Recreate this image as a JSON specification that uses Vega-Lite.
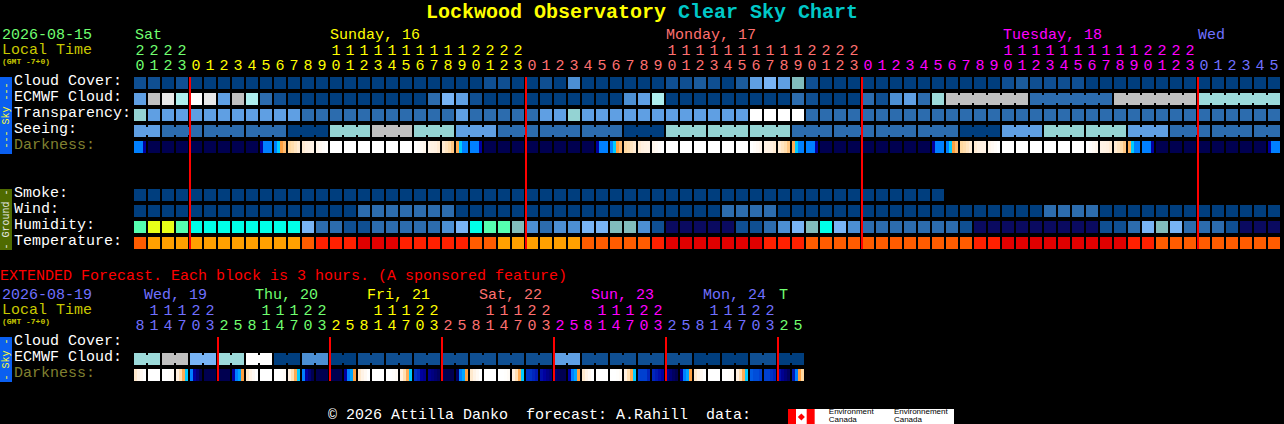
{
"$schema":"https://vega.github.io/schema/vega-lite/v6.json",
"width":1284,"height":424,"padding":0,
"autosize":{"type":"fit","contains":"padding"},
"background":"black",
"config":{"view":{"stroke":null}},
"datasets":{
"panels":[
{"from":-10,"to":-9.143,"top":-0.375,"bottom":4.4375,"part":"sky"},
{"from":-10,"to":-9.143,"top":6.625,"bottom":10.4375,"part":"ground"},
{"from":-10,"to":-9.143,"top":15.875,"bottom":18.6875,"part":"sky"},
{"from":46.2857,"to":58.143,"top":20.375,"bottom":21.3125,"part":"white"},
{"from":46.2857,"to":46.857,"top":20.375,"bottom":21.3125,"part":"red"},
{"from":47.62,"to":48.19,"top":20.375,"bottom":21.3125,"part":"red"}],
"cells":[
{"row":0,"col":0,"v":1},{"row":0,"col":1,"v":1},{"row":0,"col":2,"v":0},{"row":0,"col":3,"v":1},{"row":0,"col":4,"v":0},{"row":0,"col":5,"v":0},{"row":0,"col":6,"v":0},{"row":0,"col":7,"v":0},{"row":0,"col":8,"v":0},{"row":0,"col":9,"v":0},{"row":0,"col":10,"v":0},{"row":0,"col":11,"v":0},{"row":0,"col":12,"v":0},{"row":0,"col":13,"v":0},{"row":0,"col":14,"v":0},{"row":0,"col":15,"v":0},{"row":0,"col":16,"v":0},{"row":0,"col":17,"v":0},{"row":0,"col":18,"v":0},{"row":0,"col":19,"v":0},{"row":0,"col":20,"v":0},{"row":0,"col":21,"v":0},{"row":0,"col":22,"v":0},{"row":0,"col":23,"v":0},{"row":0,"col":24,"v":0},{"row":0,"col":25,"v":1},{"row":0,"col":26,"v":1},{"row":0,"col":27,"v":0},{"row":0,"col":28,"v":0},{"row":0,"col":29,"v":1},{"row":0,"col":30,"v":0},{"row":0,"col":31,"v":4},{"row":0,"col":32,"v":0},{"row":0,"col":33,"v":0},{"row":0,"col":34,"v":0},{"row":0,"col":35,"v":0},{"row":0,"col":36,"v":0},{"row":0,"col":37,"v":0},{"row":0,"col":38,"v":1},{"row":0,"col":39,"v":1},{"row":0,"col":40,"v":2},{"row":0,"col":41,"v":1},{"row":0,"col":42,"v":0},{"row":0,"col":43,"v":2},{"row":0,"col":44,"v":5},{"row":0,"col":45,"v":6},{"row":0,"col":46,"v":5},{"row":0,"col":47,"v":7},{"row":0,"col":48,"v":1},{"row":0,"col":49,"v":0},{"row":0,"col":50,"v":0},{"row":0,"col":51,"v":0},{"row":0,"col":52,"v":0},{"row":0,"col":53,"v":0},{"row":0,"col":54,"v":0},{"row":0,"col":55,"v":0},{"row":0,"col":56,"v":0},{"row":0,"col":57,"v":0},{"row":0,"col":58,"v":0},{"row":0,"col":59,"v":0},{"row":0,"col":60,"v":0},{"row":0,"col":61,"v":0},{"row":0,"col":62,"v":1},{"row":0,"col":63,"v":2},{"row":0,"col":64,"v":1},{"row":0,"col":65,"v":1},{"row":0,"col":66,"v":1},{"row":0,"col":67,"v":1},{"row":0,"col":68,"v":0},{"row":0,"col":69,"v":0},{"row":0,"col":70,"v":0},{"row":0,"col":71,"v":0},{"row":0,"col":72,"v":0},{"row":0,"col":73,"v":0},{"row":0,"col":74,"v":0},{"row":0,"col":75,"v":0},{"row":0,"col":76,"v":0},{"row":0,"col":77,"v":0},{"row":0,"col":78,"v":0},{"row":0,"col":79,"v":0},{"row":0,"col":80,"v":0},{"row":0,"col":81,"v":0},
{"row":1,"col":0,"v":5},{"row":1,"col":1,"v":10},{"row":1,"col":2,"v":11},{"row":1,"col":3,"v":9},{"row":1,"col":4,"v":12},{"row":1,"col":5,"v":11},{"row":1,"col":6,"v":5},{"row":1,"col":7,"v":10},{"row":1,"col":8,"v":9},{"row":1,"col":9,"v":3},{"row":1,"col":10,"v":1},{"row":1,"col":11,"v":0},{"row":1,"col":12,"v":0},{"row":1,"col":13,"v":0},{"row":1,"col":14,"v":0},{"row":1,"col":15,"v":0},{"row":1,"col":16,"v":0},{"row":1,"col":17,"v":0},{"row":1,"col":18,"v":0},{"row":1,"col":19,"v":0},{"row":1,"col":20,"v":0},{"row":1,"col":21,"v":3},{"row":1,"col":22,"v":6},{"row":1,"col":23,"v":5},{"row":1,"col":24,"v":1},{"row":1,"col":25,"v":0},{"row":1,"col":26,"v":0},{"row":1,"col":27,"v":0},{"row":1,"col":28,"v":0},{"row":1,"col":29,"v":0},{"row":1,"col":30,"v":0},{"row":1,"col":31,"v":0},{"row":1,"col":32,"v":0},{"row":1,"col":33,"v":0},{"row":1,"col":34,"v":0},{"row":1,"col":35,"v":4},{"row":1,"col":36,"v":5},{"row":1,"col":37,"v":9},{"row":1,"col":38,"v":0},{"row":1,"col":39,"v":0},{"row":1,"col":40,"v":0},{"row":1,"col":41,"v":0},{"row":1,"col":42,"v":0},{"row":1,"col":43,"v":0},{"row":1,"col":44,"v":0},{"row":1,"col":45,"v":0},{"row":1,"col":46,"v":0},{"row":1,"col":47,"v":3},{"row":1,"col":48,"v":1},{"row":1,"col":49,"v":0},{"row":1,"col":50,"v":0},{"row":1,"col":51,"v":0},{"row":1,"col":52,"v":3},{"row":1,"col":53,"v":1},{"row":1,"col":54,"v":4},{"row":1,"col":55,"v":5},{"row":1,"col":56,"v":3},{"row":1,"col":57,"v":21},{"row":1,"col":58,"v":10},{"row":1,"col":59,"v":10},{"row":1,"col":60,"v":10},{"row":1,"col":61,"v":10},{"row":1,"col":62,"v":10},{"row":1,"col":63,"v":10},{"row":1,"col":64,"v":3},{"row":1,"col":65,"v":3},{"row":1,"col":66,"v":3},{"row":1,"col":67,"v":3},{"row":1,"col":68,"v":3},{"row":1,"col":69,"v":3},{"row":1,"col":70,"v":10},{"row":1,"col":71,"v":10},{"row":1,"col":72,"v":10},{"row":1,"col":73,"v":10},{"row":1,"col":74,"v":10},{"row":1,"col":75,"v":10},{"row":1,"col":76,"v":21},{"row":1,"col":77,"v":21},{"row":1,"col":78,"v":21},{"row":1,"col":79,"v":21},{"row":1,"col":80,"v":21},{"row":1,"col":81,"v":21},
{"row":2,"col":0,"v":8},{"row":2,"col":1,"v":5},{"row":2,"col":2,"v":5},{"row":2,"col":3,"v":5},{"row":2,"col":4,"v":5},{"row":2,"col":5,"v":5},{"row":2,"col":6,"v":5},{"row":2,"col":7,"v":5},{"row":2,"col":8,"v":5},{"row":2,"col":9,"v":5},{"row":2,"col":10,"v":5},{"row":2,"col":11,"v":5},{"row":2,"col":12,"v":3},{"row":2,"col":13,"v":3},{"row":2,"col":14,"v":3},{"row":2,"col":15,"v":3},{"row":2,"col":16,"v":3},{"row":2,"col":17,"v":3},{"row":2,"col":18,"v":3},{"row":2,"col":19,"v":3},{"row":2,"col":20,"v":3},{"row":2,"col":21,"v":3},{"row":2,"col":22,"v":3},{"row":2,"col":23,"v":5},{"row":2,"col":24,"v":3},{"row":2,"col":25,"v":3},{"row":2,"col":26,"v":3},{"row":2,"col":27,"v":3},{"row":2,"col":28,"v":3},{"row":2,"col":29,"v":5},{"row":2,"col":30,"v":5},{"row":2,"col":31,"v":8},{"row":2,"col":32,"v":5},{"row":2,"col":33,"v":5},{"row":2,"col":34,"v":5},{"row":2,"col":35,"v":5},{"row":2,"col":36,"v":5},{"row":2,"col":37,"v":5},{"row":2,"col":38,"v":5},{"row":2,"col":39,"v":5},{"row":2,"col":40,"v":5},{"row":2,"col":41,"v":5},{"row":2,"col":42,"v":5},{"row":2,"col":43,"v":5},{"row":2,"col":44,"v":12},{"row":2,"col":45,"v":12},{"row":2,"col":46,"v":12},{"row":2,"col":47,"v":12},{"row":2,"col":48,"v":3},{"row":2,"col":49,"v":3},{"row":2,"col":50,"v":3},{"row":2,"col":51,"v":3},{"row":2,"col":52,"v":3},{"row":2,"col":53,"v":3},{"row":2,"col":54,"v":3},{"row":2,"col":55,"v":3},{"row":2,"col":56,"v":3},{"row":2,"col":57,"v":3},{"row":2,"col":58,"v":3},{"row":2,"col":59,"v":3},{"row":2,"col":60,"v":3},{"row":2,"col":61,"v":3},{"row":2,"col":62,"v":3},{"row":2,"col":63,"v":3},{"row":2,"col":64,"v":3},{"row":2,"col":65,"v":3},{"row":2,"col":66,"v":3},{"row":2,"col":67,"v":3},{"row":2,"col":68,"v":3},{"row":2,"col":69,"v":3},{"row":2,"col":70,"v":3},{"row":2,"col":71,"v":3},{"row":2,"col":72,"v":3},{"row":2,"col":73,"v":3},{"row":2,"col":74,"v":3},{"row":2,"col":75,"v":3},{"row":2,"col":76,"v":3},{"row":2,"col":77,"v":3},{"row":2,"col":78,"v":3},{"row":2,"col":79,"v":3},{"row":2,"col":80,"v":3},{"row":2,"col":81,"v":3},
{"row":3,"col":0,"v":5},{"row":3,"col":1,"v":5},{"row":3,"col":2,"v":3},{"row":3,"col":3,"v":3},{"row":3,"col":4,"v":3},{"row":3,"col":5,"v":3},{"row":3,"col":6,"v":3},{"row":3,"col":7,"v":3},{"row":3,"col":8,"v":3},{"row":3,"col":9,"v":3},{"row":3,"col":10,"v":3},{"row":3,"col":11,"v":0},{"row":3,"col":12,"v":0},{"row":3,"col":13,"v":0},{"row":3,"col":14,"v":8},{"row":3,"col":15,"v":8},{"row":3,"col":16,"v":8},{"row":3,"col":17,"v":10},{"row":3,"col":18,"v":10},{"row":3,"col":19,"v":10},{"row":3,"col":20,"v":8},{"row":3,"col":21,"v":8},{"row":3,"col":22,"v":8},{"row":3,"col":23,"v":5},{"row":3,"col":24,"v":5},{"row":3,"col":25,"v":5},{"row":3,"col":26,"v":3},{"row":3,"col":27,"v":3},{"row":3,"col":28,"v":3},{"row":3,"col":29,"v":3},{"row":3,"col":30,"v":3},{"row":3,"col":31,"v":3},{"row":3,"col":32,"v":3},{"row":3,"col":33,"v":3},{"row":3,"col":34,"v":3},{"row":3,"col":35,"v":0},{"row":3,"col":36,"v":0},{"row":3,"col":37,"v":0},{"row":3,"col":38,"v":8},{"row":3,"col":39,"v":8},{"row":3,"col":40,"v":8},{"row":3,"col":41,"v":8},{"row":3,"col":42,"v":8},{"row":3,"col":43,"v":8},{"row":3,"col":44,"v":8},{"row":3,"col":45,"v":8},{"row":3,"col":46,"v":8},{"row":3,"col":47,"v":3},{"row":3,"col":48,"v":3},{"row":3,"col":49,"v":3},{"row":3,"col":50,"v":3},{"row":3,"col":51,"v":3},{"row":3,"col":52,"v":3},{"row":3,"col":53,"v":3},{"row":3,"col":54,"v":3},{"row":3,"col":55,"v":3},{"row":3,"col":56,"v":3},{"row":3,"col":57,"v":3},{"row":3,"col":58,"v":3},{"row":3,"col":59,"v":0},{"row":3,"col":60,"v":0},{"row":3,"col":61,"v":0},{"row":3,"col":62,"v":5},{"row":3,"col":63,"v":5},{"row":3,"col":64,"v":5},{"row":3,"col":65,"v":8},{"row":3,"col":66,"v":8},{"row":3,"col":67,"v":8},{"row":3,"col":68,"v":8},{"row":3,"col":69,"v":8},{"row":3,"col":70,"v":8},{"row":3,"col":71,"v":5},{"row":3,"col":72,"v":5},{"row":3,"col":73,"v":5},{"row":3,"col":74,"v":3},{"row":3,"col":75,"v":3},{"row":3,"col":76,"v":3},{"row":3,"col":77,"v":3},{"row":3,"col":78,"v":3},{"row":3,"col":79,"v":3},{"row":3,"col":80,"v":3},{"row":3,"col":81,"v":3},
{"row":4,"col":1,"v":22},{"row":4,"col":2,"v":22},{"row":4,"col":3,"v":22},{"row":4,"col":4,"v":22},{"row":4,"col":5,"v":22},{"row":4,"col":6,"v":22},{"row":4,"col":7,"v":22},{"row":4,"col":8,"v":22},{"row":4,"col":14,"v":12},{"row":4,"col":15,"v":12},{"row":4,"col":16,"v":12},{"row":4,"col":17,"v":12},{"row":4,"col":18,"v":12},{"row":4,"col":19,"v":12},{"row":4,"col":25,"v":22},{"row":4,"col":26,"v":22},{"row":4,"col":27,"v":22},{"row":4,"col":28,"v":22},{"row":4,"col":29,"v":22},{"row":4,"col":30,"v":22},{"row":4,"col":31,"v":22},{"row":4,"col":32,"v":22},{"row":4,"col":38,"v":12},{"row":4,"col":39,"v":12},{"row":4,"col":40,"v":12},{"row":4,"col":41,"v":12},{"row":4,"col":42,"v":12},{"row":4,"col":43,"v":12},{"row":4,"col":49,"v":22},{"row":4,"col":50,"v":22},{"row":4,"col":51,"v":22},{"row":4,"col":52,"v":22},{"row":4,"col":53,"v":22},{"row":4,"col":54,"v":22},{"row":4,"col":55,"v":22},{"row":4,"col":56,"v":22},{"row":4,"col":62,"v":12},{"row":4,"col":63,"v":12},{"row":4,"col":64,"v":12},{"row":4,"col":65,"v":12},{"row":4,"col":66,"v":12},{"row":4,"col":67,"v":12},{"row":4,"col":73,"v":22},{"row":4,"col":74,"v":22},{"row":4,"col":75,"v":22},{"row":4,"col":76,"v":22},{"row":4,"col":77,"v":22},{"row":4,"col":78,"v":22},{"row":4,"col":79,"v":22},{"row":4,"col":80,"v":22},
{"row":7,"col":0,"v":0},{"row":7,"col":1,"v":0},{"row":7,"col":2,"v":0},{"row":7,"col":3,"v":0},{"row":7,"col":4,"v":0},{"row":7,"col":5,"v":0},{"row":7,"col":6,"v":0},{"row":7,"col":7,"v":0},{"row":7,"col":8,"v":0},{"row":7,"col":9,"v":0},{"row":7,"col":10,"v":0},{"row":7,"col":11,"v":0},{"row":7,"col":12,"v":0},{"row":7,"col":13,"v":0},{"row":7,"col":14,"v":0},{"row":7,"col":15,"v":0},{"row":7,"col":16,"v":0},{"row":7,"col":17,"v":0},{"row":7,"col":18,"v":0},{"row":7,"col":19,"v":0},{"row":7,"col":20,"v":0},{"row":7,"col":21,"v":0},{"row":7,"col":22,"v":0},{"row":7,"col":23,"v":0},{"row":7,"col":24,"v":0},{"row":7,"col":25,"v":0},{"row":7,"col":26,"v":0},{"row":7,"col":27,"v":0},{"row":7,"col":28,"v":0},{"row":7,"col":29,"v":0},{"row":7,"col":30,"v":0},{"row":7,"col":31,"v":0},{"row":7,"col":32,"v":0},{"row":7,"col":33,"v":0},{"row":7,"col":34,"v":0},{"row":7,"col":35,"v":0},{"row":7,"col":36,"v":0},{"row":7,"col":37,"v":0},{"row":7,"col":38,"v":0},{"row":7,"col":39,"v":0},{"row":7,"col":40,"v":0},{"row":7,"col":41,"v":0},{"row":7,"col":42,"v":0},{"row":7,"col":43,"v":0},{"row":7,"col":44,"v":0},{"row":7,"col":45,"v":0},{"row":7,"col":46,"v":0},{"row":7,"col":47,"v":0},{"row":7,"col":48,"v":0},{"row":7,"col":49,"v":0},{"row":7,"col":50,"v":0},{"row":7,"col":51,"v":0},{"row":7,"col":52,"v":0},{"row":7,"col":53,"v":0},{"row":7,"col":54,"v":0},{"row":7,"col":55,"v":0},{"row":7,"col":56,"v":0},{"row":7,"col":57,"v":0},
{"row":8,"col":0,"v":0},{"row":8,"col":1,"v":0},{"row":8,"col":2,"v":0},{"row":8,"col":3,"v":0},{"row":8,"col":4,"v":0},{"row":8,"col":5,"v":0},{"row":8,"col":6,"v":0},{"row":8,"col":7,"v":0},{"row":8,"col":8,"v":0},{"row":8,"col":9,"v":0},{"row":8,"col":10,"v":0},{"row":8,"col":11,"v":0},{"row":8,"col":12,"v":0},{"row":8,"col":13,"v":0},{"row":8,"col":14,"v":0},{"row":8,"col":15,"v":0},{"row":8,"col":16,"v":3},{"row":8,"col":17,"v":3},{"row":8,"col":18,"v":3},{"row":8,"col":19,"v":3},{"row":8,"col":20,"v":3},{"row":8,"col":21,"v":3},{"row":8,"col":22,"v":3},{"row":8,"col":23,"v":0},{"row":8,"col":24,"v":0},{"row":8,"col":25,"v":0},{"row":8,"col":26,"v":0},{"row":8,"col":27,"v":0},{"row":8,"col":28,"v":0},{"row":8,"col":29,"v":0},{"row":8,"col":30,"v":0},{"row":8,"col":31,"v":0},{"row":8,"col":32,"v":0},{"row":8,"col":33,"v":0},{"row":8,"col":34,"v":0},{"row":8,"col":35,"v":0},{"row":8,"col":36,"v":0},{"row":8,"col":37,"v":0},{"row":8,"col":38,"v":0},{"row":8,"col":39,"v":0},{"row":8,"col":40,"v":0},{"row":8,"col":41,"v":0},{"row":8,"col":42,"v":3},{"row":8,"col":43,"v":3},{"row":8,"col":44,"v":3},{"row":8,"col":45,"v":3},{"row":8,"col":46,"v":0},{"row":8,"col":47,"v":0},{"row":8,"col":48,"v":0},{"row":8,"col":49,"v":0},{"row":8,"col":50,"v":0},{"row":8,"col":51,"v":0},{"row":8,"col":52,"v":0},{"row":8,"col":53,"v":0},{"row":8,"col":54,"v":0},{"row":8,"col":55,"v":0},{"row":8,"col":56,"v":0},{"row":8,"col":57,"v":0},{"row":8,"col":58,"v":0},{"row":8,"col":59,"v":0},{"row":8,"col":60,"v":0},{"row":8,"col":61,"v":0},{"row":8,"col":62,"v":0},{"row":8,"col":63,"v":0},{"row":8,"col":64,"v":0},{"row":8,"col":65,"v":3},{"row":8,"col":66,"v":3},{"row":8,"col":67,"v":3},{"row":8,"col":68,"v":3},{"row":8,"col":69,"v":0},{"row":8,"col":70,"v":0},{"row":8,"col":71,"v":0},{"row":8,"col":72,"v":0},{"row":8,"col":73,"v":0},{"row":8,"col":74,"v":0},{"row":8,"col":75,"v":0},{"row":8,"col":76,"v":0},{"row":8,"col":77,"v":0},{"row":8,"col":78,"v":0},{"row":8,"col":79,"v":0},{"row":8,"col":80,"v":0},{"row":8,"col":81,"v":0},
{"row":9,"col":0,"v":15},{"row":9,"col":1,"v":16},{"row":9,"col":2,"v":16},{"row":9,"col":3,"v":15},{"row":9,"col":4,"v":14},{"row":9,"col":5,"v":14},{"row":9,"col":6,"v":14},{"row":9,"col":7,"v":14},{"row":9,"col":8,"v":14},{"row":9,"col":9,"v":14},{"row":9,"col":10,"v":14},{"row":9,"col":11,"v":14},{"row":9,"col":12,"v":6},{"row":9,"col":13,"v":3},{"row":9,"col":14,"v":3},{"row":9,"col":15,"v":1},{"row":9,"col":16,"v":1},{"row":9,"col":17,"v":3},{"row":9,"col":18,"v":3},{"row":9,"col":19,"v":3},{"row":9,"col":20,"v":3},{"row":9,"col":21,"v":3},{"row":9,"col":22,"v":4},{"row":9,"col":23,"v":6},{"row":9,"col":24,"v":14},{"row":9,"col":25,"v":15},{"row":9,"col":26,"v":15},{"row":9,"col":27,"v":7},{"row":9,"col":28,"v":4},{"row":9,"col":29,"v":3},{"row":9,"col":30,"v":4},{"row":9,"col":31,"v":4},{"row":9,"col":32,"v":6},{"row":9,"col":33,"v":6},{"row":9,"col":34,"v":7},{"row":9,"col":35,"v":7},{"row":9,"col":36,"v":4},{"row":9,"col":37,"v":1},{"row":9,"col":38,"v":13},{"row":9,"col":39,"v":13},{"row":9,"col":40,"v":13},{"row":9,"col":41,"v":13},{"row":9,"col":42,"v":13},{"row":9,"col":43,"v":1},{"row":9,"col":44,"v":1},{"row":9,"col":45,"v":3},{"row":9,"col":46,"v":4},{"row":9,"col":47,"v":6},{"row":9,"col":48,"v":7},{"row":9,"col":49,"v":14},{"row":9,"col":50,"v":6},{"row":9,"col":51,"v":4},{"row":9,"col":52,"v":3},{"row":9,"col":53,"v":3},{"row":9,"col":54,"v":3},{"row":9,"col":55,"v":3},{"row":9,"col":56,"v":3},{"row":9,"col":57,"v":3},{"row":9,"col":58,"v":3},{"row":9,"col":59,"v":1},{"row":9,"col":60,"v":13},{"row":9,"col":61,"v":13},{"row":9,"col":62,"v":13},{"row":9,"col":63,"v":13},{"row":9,"col":64,"v":13},{"row":9,"col":65,"v":13},{"row":9,"col":66,"v":13},{"row":9,"col":67,"v":13},{"row":9,"col":68,"v":13},{"row":9,"col":69,"v":1},{"row":9,"col":70,"v":1},{"row":9,"col":71,"v":3},{"row":9,"col":72,"v":6},{"row":9,"col":73,"v":7},{"row":9,"col":74,"v":6},{"row":9,"col":75,"v":3},{"row":9,"col":76,"v":3},{"row":9,"col":77,"v":3},{"row":9,"col":78,"v":1},{"row":9,"col":79,"v":13},{"row":9,"col":80,"v":13},{"row":9,"col":81,"v":13},
{"row":10,"col":0,"v":19},{"row":10,"col":1,"v":20},{"row":10,"col":2,"v":20},{"row":10,"col":3,"v":20},{"row":10,"col":4,"v":20},{"row":10,"col":5,"v":20},{"row":10,"col":6,"v":20},{"row":10,"col":7,"v":20},{"row":10,"col":8,"v":20},{"row":10,"col":9,"v":20},{"row":10,"col":10,"v":20},{"row":10,"col":11,"v":20},{"row":10,"col":12,"v":19},{"row":10,"col":13,"v":18},{"row":10,"col":14,"v":18},{"row":10,"col":15,"v":18},{"row":10,"col":16,"v":17},{"row":10,"col":17,"v":17},{"row":10,"col":18,"v":17},{"row":10,"col":19,"v":18},{"row":10,"col":20,"v":18},{"row":10,"col":21,"v":18},{"row":10,"col":22,"v":18},{"row":10,"col":23,"v":18},{"row":10,"col":24,"v":19},{"row":10,"col":25,"v":19},{"row":10,"col":26,"v":20},{"row":10,"col":27,"v":20},{"row":10,"col":28,"v":20},{"row":10,"col":29,"v":20},{"row":10,"col":30,"v":20},{"row":10,"col":31,"v":20},{"row":10,"col":32,"v":19},{"row":10,"col":33,"v":19},{"row":10,"col":34,"v":19},{"row":10,"col":35,"v":19},{"row":10,"col":36,"v":19},{"row":10,"col":37,"v":18},{"row":10,"col":38,"v":17},{"row":10,"col":39,"v":17},{"row":10,"col":40,"v":17},{"row":10,"col":41,"v":17},{"row":10,"col":42,"v":17},{"row":10,"col":43,"v":17},{"row":10,"col":44,"v":17},{"row":10,"col":45,"v":18},{"row":10,"col":46,"v":18},{"row":10,"col":47,"v":18},{"row":10,"col":48,"v":19},{"row":10,"col":49,"v":19},{"row":10,"col":50,"v":19},{"row":10,"col":51,"v":19},{"row":10,"col":52,"v":19},{"row":10,"col":53,"v":19},{"row":10,"col":54,"v":19},{"row":10,"col":55,"v":19},{"row":10,"col":56,"v":19},{"row":10,"col":57,"v":19},{"row":10,"col":58,"v":19},{"row":10,"col":59,"v":19},{"row":10,"col":60,"v":18},{"row":10,"col":61,"v":18},{"row":10,"col":62,"v":17},{"row":10,"col":63,"v":17},{"row":10,"col":64,"v":17},{"row":10,"col":65,"v":17},{"row":10,"col":66,"v":17},{"row":10,"col":67,"v":17},{"row":10,"col":68,"v":17},{"row":10,"col":69,"v":17},{"row":10,"col":70,"v":17},{"row":10,"col":71,"v":18},{"row":10,"col":72,"v":18},{"row":10,"col":73,"v":19},{"row":10,"col":74,"v":19},{"row":10,"col":75,"v":19},{"row":10,"col":76,"v":19},{"row":10,"col":77,"v":19},{"row":10,"col":78,"v":19},{"row":10,"col":79,"v":19},{"row":10,"col":80,"v":19},{"row":10,"col":81,"v":19},
{"row":17.25,"col":0,"v":21},{"row":17.25,"col":1,"v":21},{"row":17.25,"col":2,"v":10},{"row":17.25,"col":3,"v":10},{"row":17.25,"col":4,"v":6},{"row":17.25,"col":5,"v":6},{"row":17.25,"col":6,"v":21},{"row":17.25,"col":7,"v":21},{"row":17.25,"col":8,"v":12},{"row":17.25,"col":9,"v":12},{"row":17.25,"col":10,"v":0},{"row":17.25,"col":11,"v":0},{"row":17.25,"col":12,"v":4},{"row":17.25,"col":13,"v":4},{"row":17.25,"col":14,"v":0},{"row":17.25,"col":15,"v":0},{"row":17.25,"col":16,"v":1},{"row":17.25,"col":17,"v":1},{"row":17.25,"col":18,"v":1},{"row":17.25,"col":19,"v":1},{"row":17.25,"col":20,"v":1},{"row":17.25,"col":21,"v":1},{"row":17.25,"col":22,"v":1},{"row":17.25,"col":23,"v":1},{"row":17.25,"col":24,"v":1},{"row":17.25,"col":25,"v":1},{"row":17.25,"col":26,"v":1},{"row":17.25,"col":27,"v":1},{"row":17.25,"col":28,"v":1},{"row":17.25,"col":29,"v":1},{"row":17.25,"col":30,"v":5},{"row":17.25,"col":31,"v":5},{"row":17.25,"col":32,"v":1},{"row":17.25,"col":33,"v":1},{"row":17.25,"col":34,"v":1},{"row":17.25,"col":35,"v":1},{"row":17.25,"col":36,"v":1},{"row":17.25,"col":37,"v":1},{"row":17.25,"col":38,"v":1},{"row":17.25,"col":39,"v":1},{"row":17.25,"col":40,"v":0},{"row":17.25,"col":41,"v":0},{"row":17.25,"col":42,"v":0},{"row":17.25,"col":43,"v":0},{"row":17.25,"col":44,"v":1},{"row":17.25,"col":45,"v":1},{"row":17.25,"col":46,"v":0},{"row":17.25,"col":47,"v":0},
{"row":18.25,"col":1,"v":12},{"row":18.25,"col":5,"v":22},{"row":18.25,"col":6,"v":22},{"row":18.25,"col":9,"v":12},{"row":18.25,"col":13,"v":22},{"row":18.25,"col":14,"v":22},{"row":18.25,"col":17,"v":12},{"row":18.25,"col":22,"v":22},{"row":18.25,"col":25,"v":12},{"row":18.25,"col":33,"v":12},{"row":18.25,"col":41,"v":12}],
"bridges":[
{"row":1,"col":58.5,"v":10},{"row":1,"col":59.5,"v":10},{"row":1,"col":60.5,"v":10},{"row":1,"col":61.5,"v":10},{"row":1,"col":62.5,"v":10},{"row":1,"col":64.5,"v":3},{"row":1,"col":65.5,"v":3},{"row":1,"col":66.5,"v":3},{"row":1,"col":67.5,"v":3},{"row":1,"col":68.5,"v":3},{"row":1,"col":70.5,"v":10},{"row":1,"col":71.5,"v":10},{"row":1,"col":72.5,"v":10},{"row":1,"col":73.5,"v":10},{"row":1,"col":74.5,"v":10},{"row":1,"col":76.5,"v":21},{"row":1,"col":77.5,"v":21},{"row":1,"col":78.5,"v":21},{"row":1,"col":79.5,"v":21},{"row":1,"col":80.5,"v":21},
{"row":3,"col":0.5,"v":5},{"row":3,"col":2.5,"v":3},{"row":3,"col":3.5,"v":3},{"row":3,"col":5.5,"v":3},{"row":3,"col":6.5,"v":3},{"row":3,"col":8.5,"v":3},{"row":3,"col":9.5,"v":3},{"row":3,"col":11.5,"v":0},{"row":3,"col":12.5,"v":0},{"row":3,"col":14.5,"v":8},{"row":3,"col":15.5,"v":8},{"row":3,"col":17.5,"v":10},{"row":3,"col":18.5,"v":10},{"row":3,"col":20.5,"v":8},{"row":3,"col":21.5,"v":8},{"row":3,"col":23.5,"v":5},{"row":3,"col":24.5,"v":5},{"row":3,"col":26.5,"v":3},{"row":3,"col":27.5,"v":3},{"row":3,"col":29.5,"v":3},{"row":3,"col":30.5,"v":3},{"row":3,"col":32.5,"v":3},{"row":3,"col":33.5,"v":3},{"row":3,"col":35.5,"v":0},{"row":3,"col":36.5,"v":0},{"row":3,"col":38.5,"v":8},{"row":3,"col":39.5,"v":8},{"row":3,"col":41.5,"v":8},{"row":3,"col":42.5,"v":8},{"row":3,"col":44.5,"v":8},{"row":3,"col":45.5,"v":8},{"row":3,"col":47.5,"v":3},{"row":3,"col":48.5,"v":3},{"row":3,"col":50.5,"v":3},{"row":3,"col":51.5,"v":3},{"row":3,"col":53.5,"v":3},{"row":3,"col":54.5,"v":3},{"row":3,"col":56.5,"v":3},{"row":3,"col":57.5,"v":3},{"row":3,"col":59.5,"v":0},{"row":3,"col":60.5,"v":0},{"row":3,"col":62.5,"v":5},{"row":3,"col":63.5,"v":5},{"row":3,"col":65.5,"v":8},{"row":3,"col":66.5,"v":8},{"row":3,"col":68.5,"v":8},{"row":3,"col":69.5,"v":8},{"row":3,"col":71.5,"v":5},{"row":3,"col":72.5,"v":5},{"row":3,"col":74.5,"v":3},{"row":3,"col":75.5,"v":3},{"row":3,"col":77.5,"v":3},{"row":3,"col":78.5,"v":3},{"row":3,"col":80.5,"v":3},
{"row":17.25,"col":0.5,"v":21},{"row":17.25,"col":2.5,"v":10},{"row":17.25,"col":4.5,"v":6},{"row":17.25,"col":6.5,"v":21},{"row":17.25,"col":8.5,"v":12},{"row":17.25,"col":10.5,"v":0},{"row":17.25,"col":12.5,"v":4},{"row":17.25,"col":14.5,"v":0},{"row":17.25,"col":16.5,"v":1},{"row":17.25,"col":18.5,"v":1},{"row":17.25,"col":20.5,"v":1},{"row":17.25,"col":22.5,"v":1},{"row":17.25,"col":24.5,"v":1},{"row":17.25,"col":26.5,"v":1},{"row":17.25,"col":28.5,"v":1},{"row":17.25,"col":30.5,"v":5},{"row":17.25,"col":32.5,"v":1},{"row":17.25,"col":34.5,"v":1},{"row":17.25,"col":36.5,"v":1},{"row":17.25,"col":38.5,"v":1},{"row":17.25,"col":40.5,"v":0},{"row":17.25,"col":42.5,"v":0},{"row":17.25,"col":44.5,"v":1},{"row":17.25,"col":46.5,"v":0}],
"slices":[
{"row":4,"col":-0.321,"dark":5},{"row":4,"col":-0.107,"dark":5},{"row":4,"col":0.107,"dark":5},{"row":4,"col":0.321,"dark":6},
{"row":4,"col":8.679,"dark":6},{"row":4,"col":8.893,"dark":5},{"row":4,"col":9.107,"dark":5},{"row":4,"col":9.321,"dark":5},
{"row":4,"col":9.679,"dark":5},{"row":4,"col":9.893,"dark":4},{"row":4,"col":10.107,"dark":3},{"row":4,"col":10.321,"dark":2.5},
{"row":4,"col":10.679,"dark":2},{"row":4,"col":10.893,"dark":1.8},{"row":4,"col":11.107,"dark":1.5},{"row":4,"col":11.321,"dark":1.2},
{"row":4,"col":11.679,"dark":1.2},{"row":4,"col":11.893,"dark":1},{"row":4,"col":12.107,"dark":0.9},{"row":4,"col":12.321,"dark":0.8},
{"row":4,"col":12.679,"dark":0.6},{"row":4,"col":12.893,"dark":0.4},{"row":4,"col":13.107,"dark":0.2},{"row":4,"col":13.321,"dark":0},
{"row":4,"col":19.679,"dark":0},{"row":4,"col":19.893,"dark":0.2},{"row":4,"col":20.107,"dark":0.4},{"row":4,"col":20.321,"dark":0.6},
{"row":4,"col":20.679,"dark":0.8},{"row":4,"col":20.893,"dark":0.9},{"row":4,"col":21.107,"dark":1},{"row":4,"col":21.321,"dark":1.2},
{"row":4,"col":21.679,"dark":1.2},{"row":4,"col":21.893,"dark":1.5},{"row":4,"col":22.107,"dark":1.8},{"row":4,"col":22.321,"dark":2.3},
{"row":4,"col":22.679,"dark":2.8},{"row":4,"col":22.893,"dark":4},{"row":4,"col":23.107,"dark":5},{"row":4,"col":23.321,"dark":5},
{"row":4,"col":23.679,"dark":5},{"row":4,"col":23.893,"dark":5},{"row":4,"col":24.107,"dark":5},{"row":4,"col":24.321,"dark":6},
{"row":4,"col":32.679,"dark":6},{"row":4,"col":32.893,"dark":5},{"row":4,"col":33.107,"dark":5},{"row":4,"col":33.321,"dark":5},
{"row":4,"col":33.679,"dark":5},{"row":4,"col":33.893,"dark":4},{"row":4,"col":34.107,"dark":3},{"row":4,"col":34.321,"dark":2.5},
{"row":4,"col":34.679,"dark":2},{"row":4,"col":34.893,"dark":1.8},{"row":4,"col":35.107,"dark":1.5},{"row":4,"col":35.321,"dark":1.2},
{"row":4,"col":35.679,"dark":1.2},{"row":4,"col":35.893,"dark":1},{"row":4,"col":36.107,"dark":0.9},{"row":4,"col":36.321,"dark":0.8},
{"row":4,"col":36.679,"dark":0.6},{"row":4,"col":36.893,"dark":0.4},{"row":4,"col":37.107,"dark":0.2},{"row":4,"col":37.321,"dark":0},
{"row":4,"col":43.679,"dark":0},{"row":4,"col":43.893,"dark":0.2},{"row":4,"col":44.107,"dark":0.4},{"row":4,"col":44.321,"dark":0.6},
{"row":4,"col":44.679,"dark":0.8},{"row":4,"col":44.893,"dark":0.9},{"row":4,"col":45.107,"dark":1},{"row":4,"col":45.321,"dark":1.2},
{"row":4,"col":45.679,"dark":1.2},{"row":4,"col":45.893,"dark":1.5},{"row":4,"col":46.107,"dark":1.8},{"row":4,"col":46.321,"dark":2.3},
{"row":4,"col":46.679,"dark":2.8},{"row":4,"col":46.893,"dark":4},{"row":4,"col":47.107,"dark":5},{"row":4,"col":47.321,"dark":5},
{"row":4,"col":47.679,"dark":5},{"row":4,"col":47.893,"dark":5},{"row":4,"col":48.107,"dark":5},{"row":4,"col":48.321,"dark":6},
{"row":4,"col":56.679,"dark":6},{"row":4,"col":56.893,"dark":5},{"row":4,"col":57.107,"dark":5},{"row":4,"col":57.321,"dark":5},
{"row":4,"col":57.679,"dark":5},{"row":4,"col":57.893,"dark":4},{"row":4,"col":58.107,"dark":3},{"row":4,"col":58.321,"dark":2.5},
{"row":4,"col":58.679,"dark":2},{"row":4,"col":58.893,"dark":1.8},{"row":4,"col":59.107,"dark":1.5},{"row":4,"col":59.321,"dark":1.2},
{"row":4,"col":59.679,"dark":1.2},{"row":4,"col":59.893,"dark":1},{"row":4,"col":60.107,"dark":0.9},{"row":4,"col":60.321,"dark":0.8},
{"row":4,"col":60.679,"dark":0.6},{"row":4,"col":60.893,"dark":0.4},{"row":4,"col":61.107,"dark":0.2},{"row":4,"col":61.321,"dark":0},
{"row":4,"col":67.679,"dark":0},{"row":4,"col":67.893,"dark":0.2},{"row":4,"col":68.107,"dark":0.4},{"row":4,"col":68.321,"dark":0.6},
{"row":4,"col":68.679,"dark":0.8},{"row":4,"col":68.893,"dark":0.9},{"row":4,"col":69.107,"dark":1},{"row":4,"col":69.321,"dark":1.2},
{"row":4,"col":69.679,"dark":1.2},{"row":4,"col":69.893,"dark":1.5},{"row":4,"col":70.107,"dark":1.8},{"row":4,"col":70.321,"dark":2.3},
{"row":4,"col":70.679,"dark":2.8},{"row":4,"col":70.893,"dark":4},{"row":4,"col":71.107,"dark":5},{"row":4,"col":71.321,"dark":5},
{"row":4,"col":71.679,"dark":5},{"row":4,"col":71.893,"dark":5},{"row":4,"col":72.107,"dark":5},{"row":4,"col":72.321,"dark":6},
{"row":4,"col":80.679,"dark":6},{"row":4,"col":80.893,"dark":5},{"row":4,"col":81.107,"dark":5},{"row":4,"col":81.321,"dark":5},
{"row":18.25,"col":-0.321,"dark":1.3},{"row":18.25,"col":-0.107,"dark":0.8},{"row":18.25,"col":0.107,"dark":0.4},{"row":18.25,"col":0.321,"dark":0},
{"row":18.25,"col":1.679,"dark":0},{"row":18.25,"col":1.893,"dark":0},{"row":18.25,"col":2.107,"dark":0.1},{"row":18.25,"col":2.321,"dark":0.3},
{"row":18.25,"col":2.679,"dark":1},{"row":18.25,"col":2.893,"dark":1.7},{"row":18.25,"col":3.107,"dark":2.8},{"row":18.25,"col":3.321,"dark":4},
{"row":18.25,"col":3.679,"dark":5},{"row":18.25,"col":3.893,"dark":6},{"row":18.25,"col":4.107,"dark":6.5},{"row":18.25,"col":4.321,"dark":7},
{"row":18.25,"col":6.679,"dark":6},{"row":18.25,"col":6.893,"dark":5},{"row":18.25,"col":7.107,"dark":4.5},{"row":18.25,"col":7.321,"dark":3},
{"row":18.25,"col":7.679,"dark":1.3},{"row":18.25,"col":7.893,"dark":0.8},{"row":18.25,"col":8.107,"dark":0.4},{"row":18.25,"col":8.321,"dark":0},
{"row":18.25,"col":9.679,"dark":0},{"row":18.25,"col":9.893,"dark":0},{"row":18.25,"col":10.107,"dark":0.1},{"row":18.25,"col":10.321,"dark":0.3},
{"row":18.25,"col":10.679,"dark":1},{"row":18.25,"col":10.893,"dark":1.7},{"row":18.25,"col":11.107,"dark":2.8},{"row":18.25,"col":11.321,"dark":4},
{"row":18.25,"col":11.679,"dark":5},{"row":18.25,"col":11.893,"dark":6},{"row":18.25,"col":12.107,"dark":6.5},{"row":18.25,"col":12.321,"dark":7},
{"row":18.25,"col":14.679,"dark":6},{"row":18.25,"col":14.893,"dark":5},{"row":18.25,"col":15.107,"dark":4.5},{"row":18.25,"col":15.321,"dark":3},
{"row":18.25,"col":15.679,"dark":1.3},{"row":18.25,"col":15.893,"dark":0.8},{"row":18.25,"col":16.107,"dark":0.4},{"row":18.25,"col":16.321,"dark":0},
{"row":18.25,"col":17.679,"dark":0},{"row":18.25,"col":17.893,"dark":0},{"row":18.25,"col":18.107,"dark":0.1},{"row":18.25,"col":18.321,"dark":0.3},
{"row":18.25,"col":18.679,"dark":1},{"row":18.25,"col":18.893,"dark":1.7},{"row":18.25,"col":19.107,"dark":2.8},{"row":18.25,"col":19.321,"dark":4},
{"row":18.25,"col":19.679,"dark":5.6},{"row":18.25,"col":19.893,"dark":5.7},{"row":18.25,"col":20.107,"dark":6},{"row":18.25,"col":20.321,"dark":6.2},
{"row":18.25,"col":20.679,"dark":6.2},{"row":18.25,"col":20.893,"dark":6.4},{"row":18.25,"col":21.107,"dark":6.6},{"row":18.25,"col":21.321,"dark":6.8},
{"row":18.25,"col":22.679,"dark":6.7},{"row":18.25,"col":22.893,"dark":5},{"row":18.25,"col":23.107,"dark":4.5},{"row":18.25,"col":23.321,"dark":3},
{"row":18.25,"col":23.679,"dark":1.3},{"row":18.25,"col":23.893,"dark":0.8},{"row":18.25,"col":24.107,"dark":0.4},{"row":18.25,"col":24.321,"dark":0},
{"row":18.25,"col":25.679,"dark":0},{"row":18.25,"col":25.893,"dark":0},{"row":18.25,"col":26.107,"dark":0.1},{"row":18.25,"col":26.321,"dark":0.3},
{"row":18.25,"col":26.679,"dark":1},{"row":18.25,"col":26.893,"dark":1.7},{"row":18.25,"col":27.107,"dark":2.8},{"row":18.25,"col":27.321,"dark":4},
{"row":18.25,"col":27.679,"dark":5.6},{"row":18.25,"col":27.893,"dark":5.6},{"row":18.25,"col":28.107,"dark":5.7},{"row":18.25,"col":28.321,"dark":5.8},
{"row":18.25,"col":28.679,"dark":5.9},{"row":18.25,"col":28.893,"dark":6},{"row":18.25,"col":29.107,"dark":6.3},{"row":18.25,"col":29.321,"dark":6.5},
{"row":18.25,"col":29.679,"dark":6.6},{"row":18.25,"col":29.893,"dark":6.8},{"row":18.25,"col":30.107,"dark":7},{"row":18.25,"col":30.321,"dark":7},
{"row":18.25,"col":30.679,"dark":6},{"row":18.25,"col":30.893,"dark":5},{"row":18.25,"col":31.107,"dark":4.5},{"row":18.25,"col":31.321,"dark":3},
{"row":18.25,"col":31.679,"dark":1.3},{"row":18.25,"col":31.893,"dark":0.8},{"row":18.25,"col":32.107,"dark":0.4},{"row":18.25,"col":32.321,"dark":0},
{"row":18.25,"col":33.679,"dark":0},{"row":18.25,"col":33.893,"dark":0},{"row":18.25,"col":34.107,"dark":0.1},{"row":18.25,"col":34.321,"dark":0.3},
{"row":18.25,"col":34.679,"dark":1},{"row":18.25,"col":34.893,"dark":1.7},{"row":18.25,"col":35.107,"dark":2.8},{"row":18.25,"col":35.321,"dark":4},
{"row":18.25,"col":35.679,"dark":5.5},{"row":18.25,"col":35.893,"dark":5.5},{"row":18.25,"col":36.107,"dark":5.5},{"row":18.25,"col":36.321,"dark":5.7},
{"row":18.25,"col":36.679,"dark":5.7},{"row":18.25,"col":36.893,"dark":5.8},{"row":18.25,"col":37.107,"dark":5.9},{"row":18.25,"col":37.321,"dark":6},
{"row":18.25,"col":37.679,"dark":6.2},{"row":18.25,"col":37.893,"dark":6.5},{"row":18.25,"col":38.107,"dark":6.8},{"row":18.25,"col":38.321,"dark":7},
{"row":18.25,"col":38.679,"dark":6},{"row":18.25,"col":38.893,"dark":5},{"row":18.25,"col":39.107,"dark":4.5},{"row":18.25,"col":39.321,"dark":3},
{"row":18.25,"col":39.679,"dark":1.3},{"row":18.25,"col":39.893,"dark":0.8},{"row":18.25,"col":40.107,"dark":0.4},{"row":18.25,"col":40.321,"dark":0},
{"row":18.25,"col":41.679,"dark":0},{"row":18.25,"col":41.893,"dark":0},{"row":18.25,"col":42.107,"dark":0.1},{"row":18.25,"col":42.321,"dark":0.3},
{"row":18.25,"col":42.679,"dark":1},{"row":18.25,"col":42.893,"dark":1.7},{"row":18.25,"col":43.107,"dark":2.8},{"row":18.25,"col":43.321,"dark":4},
{"row":18.25,"col":43.679,"dark":5.3},{"row":18.25,"col":43.893,"dark":5.4},{"row":18.25,"col":44.107,"dark":5.4},{"row":18.25,"col":44.321,"dark":5.5},
{"row":18.25,"col":44.679,"dark":5.5},{"row":18.25,"col":44.893,"dark":5.5},{"row":18.25,"col":45.107,"dark":5.6},{"row":18.25,"col":45.321,"dark":5.7},
{"row":18.25,"col":45.679,"dark":5.9},{"row":18.25,"col":45.893,"dark":6.2},{"row":18.25,"col":46.107,"dark":6.5},{"row":18.25,"col":46.321,"dark":6.8},
{"row":18.25,"col":46.679,"dark":5.8},{"row":18.25,"col":46.893,"dark":5},{"row":18.25,"col":47.107,"dark":3},{"row":18.25,"col":47.321,"dark":2}],
"midnights":[
{"col":3.571,"top":-0.375,"bottom":10.375},{"col":27.571,"top":-0.375,"bottom":10.375},{"col":51.571,"top":-0.375,"bottom":10.375},{"col":75.571,"top":-0.375,"bottom":10.375},
{"col":5.571,"top":15.875,"bottom":18.625},{"col":13.571,"top":15.875,"bottom":18.625},{"col":21.571,"top":15.875,"bottom":18.625},{"col":29.571,"top":15.875,"bottom":18.625},{"col":37.571,"top":15.875,"bottom":18.625},{"col":45.571,"top":15.875,"bottom":18.625}],
"digits":[
{"col":0,"row":-2.0625,"label":"2","kind":"d0"},{"col":1,"row":-2.0625,"label":"2","kind":"d0"},{"col":2,"row":-2.0625,"label":"2","kind":"d0"},{"col":3,"row":-2.0625,"label":"2","kind":"d0"},
{"col":14,"row":-2.0625,"label":"1","kind":"d1"},{"col":15,"row":-2.0625,"label":"1","kind":"d1"},{"col":16,"row":-2.0625,"label":"1","kind":"d1"},{"col":17,"row":-2.0625,"label":"1","kind":"d1"},{"col":18,"row":-2.0625,"label":"1","kind":"d1"},{"col":19,"row":-2.0625,"label":"1","kind":"d1"},{"col":20,"row":-2.0625,"label":"1","kind":"d1"},{"col":21,"row":-2.0625,"label":"1","kind":"d1"},{"col":22,"row":-2.0625,"label":"1","kind":"d1"},{"col":23,"row":-2.0625,"label":"1","kind":"d1"},{"col":24,"row":-2.0625,"label":"2","kind":"d1"},{"col":25,"row":-2.0625,"label":"2","kind":"d1"},{"col":26,"row":-2.0625,"label":"2","kind":"d1"},{"col":27,"row":-2.0625,"label":"2","kind":"d1"},
{"col":38,"row":-2.0625,"label":"1","kind":"d2"},{"col":39,"row":-2.0625,"label":"1","kind":"d2"},{"col":40,"row":-2.0625,"label":"1","kind":"d2"},{"col":41,"row":-2.0625,"label":"1","kind":"d2"},{"col":42,"row":-2.0625,"label":"1","kind":"d2"},{"col":43,"row":-2.0625,"label":"1","kind":"d2"},{"col":44,"row":-2.0625,"label":"1","kind":"d2"},{"col":45,"row":-2.0625,"label":"1","kind":"d2"},{"col":46,"row":-2.0625,"label":"1","kind":"d2"},{"col":47,"row":-2.0625,"label":"1","kind":"d2"},{"col":48,"row":-2.0625,"label":"2","kind":"d2"},{"col":49,"row":-2.0625,"label":"2","kind":"d2"},{"col":50,"row":-2.0625,"label":"2","kind":"d2"},{"col":51,"row":-2.0625,"label":"2","kind":"d2"},
{"col":62,"row":-2.0625,"label":"1","kind":"d3"},{"col":63,"row":-2.0625,"label":"1","kind":"d3"},{"col":64,"row":-2.0625,"label":"1","kind":"d3"},{"col":65,"row":-2.0625,"label":"1","kind":"d3"},{"col":66,"row":-2.0625,"label":"1","kind":"d3"},{"col":67,"row":-2.0625,"label":"1","kind":"d3"},{"col":68,"row":-2.0625,"label":"1","kind":"d3"},{"col":69,"row":-2.0625,"label":"1","kind":"d3"},{"col":70,"row":-2.0625,"label":"1","kind":"d3"},{"col":71,"row":-2.0625,"label":"1","kind":"d3"},{"col":72,"row":-2.0625,"label":"2","kind":"d3"},{"col":73,"row":-2.0625,"label":"2","kind":"d3"},{"col":74,"row":-2.0625,"label":"2","kind":"d3"},{"col":75,"row":-2.0625,"label":"2","kind":"d3"},
{"col":0,"row":-1.125,"label":"0","kind":"d0"},{"col":1,"row":-1.125,"label":"1","kind":"d0"},{"col":2,"row":-1.125,"label":"2","kind":"d0"},{"col":3,"row":-1.125,"label":"3","kind":"d0"},
{"col":4,"row":-1.125,"label":"0","kind":"d1"},{"col":5,"row":-1.125,"label":"1","kind":"d1"},{"col":6,"row":-1.125,"label":"2","kind":"d1"},{"col":7,"row":-1.125,"label":"3","kind":"d1"},{"col":8,"row":-1.125,"label":"4","kind":"d1"},{"col":9,"row":-1.125,"label":"5","kind":"d1"},{"col":10,"row":-1.125,"label":"6","kind":"d1"},{"col":11,"row":-1.125,"label":"7","kind":"d1"},{"col":12,"row":-1.125,"label":"8","kind":"d1"},{"col":13,"row":-1.125,"label":"9","kind":"d1"},{"col":14,"row":-1.125,"label":"0","kind":"d1"},{"col":15,"row":-1.125,"label":"1","kind":"d1"},{"col":16,"row":-1.125,"label":"2","kind":"d1"},{"col":17,"row":-1.125,"label":"3","kind":"d1"},{"col":18,"row":-1.125,"label":"4","kind":"d1"},{"col":19,"row":-1.125,"label":"5","kind":"d1"},{"col":20,"row":-1.125,"label":"6","kind":"d1"},{"col":21,"row":-1.125,"label":"7","kind":"d1"},{"col":22,"row":-1.125,"label":"8","kind":"d1"},{"col":23,"row":-1.125,"label":"9","kind":"d1"},{"col":24,"row":-1.125,"label":"0","kind":"d1"},{"col":25,"row":-1.125,"label":"1","kind":"d1"},{"col":26,"row":-1.125,"label":"2","kind":"d1"},{"col":27,"row":-1.125,"label":"3","kind":"d1"},
{"col":28,"row":-1.125,"label":"0","kind":"d2"},{"col":29,"row":-1.125,"label":"1","kind":"d2"},{"col":30,"row":-1.125,"label":"2","kind":"d2"},{"col":31,"row":-1.125,"label":"3","kind":"d2"},{"col":32,"row":-1.125,"label":"4","kind":"d2"},{"col":33,"row":-1.125,"label":"5","kind":"d2"},{"col":34,"row":-1.125,"label":"6","kind":"d2"},{"col":35,"row":-1.125,"label":"7","kind":"d2"},{"col":36,"row":-1.125,"label":"8","kind":"d2"},{"col":37,"row":-1.125,"label":"9","kind":"d2"},{"col":38,"row":-1.125,"label":"0","kind":"d2"},{"col":39,"row":-1.125,"label":"1","kind":"d2"},{"col":40,"row":-1.125,"label":"2","kind":"d2"},{"col":41,"row":-1.125,"label":"3","kind":"d2"},{"col":42,"row":-1.125,"label":"4","kind":"d2"},{"col":43,"row":-1.125,"label":"5","kind":"d2"},{"col":44,"row":-1.125,"label":"6","kind":"d2"},{"col":45,"row":-1.125,"label":"7","kind":"d2"},{"col":46,"row":-1.125,"label":"8","kind":"d2"},{"col":47,"row":-1.125,"label":"9","kind":"d2"},{"col":48,"row":-1.125,"label":"0","kind":"d2"},{"col":49,"row":-1.125,"label":"1","kind":"d2"},{"col":50,"row":-1.125,"label":"2","kind":"d2"},{"col":51,"row":-1.125,"label":"3","kind":"d2"},
{"col":52,"row":-1.125,"label":"0","kind":"d3"},{"col":53,"row":-1.125,"label":"1","kind":"d3"},{"col":54,"row":-1.125,"label":"2","kind":"d3"},{"col":55,"row":-1.125,"label":"3","kind":"d3"},{"col":56,"row":-1.125,"label":"4","kind":"d3"},{"col":57,"row":-1.125,"label":"5","kind":"d3"},{"col":58,"row":-1.125,"label":"6","kind":"d3"},{"col":59,"row":-1.125,"label":"7","kind":"d3"},{"col":60,"row":-1.125,"label":"8","kind":"d3"},{"col":61,"row":-1.125,"label":"9","kind":"d3"},{"col":62,"row":-1.125,"label":"0","kind":"d3"},{"col":63,"row":-1.125,"label":"1","kind":"d3"},{"col":64,"row":-1.125,"label":"2","kind":"d3"},{"col":65,"row":-1.125,"label":"3","kind":"d3"},{"col":66,"row":-1.125,"label":"4","kind":"d3"},{"col":67,"row":-1.125,"label":"5","kind":"d3"},{"col":68,"row":-1.125,"label":"6","kind":"d3"},{"col":69,"row":-1.125,"label":"7","kind":"d3"},{"col":70,"row":-1.125,"label":"8","kind":"d3"},{"col":71,"row":-1.125,"label":"9","kind":"d3"},{"col":72,"row":-1.125,"label":"0","kind":"d3"},{"col":73,"row":-1.125,"label":"1","kind":"d3"},{"col":74,"row":-1.125,"label":"2","kind":"d3"},{"col":75,"row":-1.125,"label":"3","kind":"d3"},
{"col":76,"row":-1.125,"label":"0","kind":"d4"},{"col":77,"row":-1.125,"label":"1","kind":"d4"},{"col":78,"row":-1.125,"label":"2","kind":"d4"},{"col":79,"row":-1.125,"label":"3","kind":"d4"},{"col":80,"row":-1.125,"label":"4","kind":"d4"},{"col":81,"row":-1.125,"label":"5","kind":"d4"},
{"col":1,"row":14.1875,"label":"1","kind":"d4"},{"col":2,"row":14.1875,"label":"1","kind":"d4"},{"col":3,"row":14.1875,"label":"1","kind":"d4"},{"col":4,"row":14.1875,"label":"2","kind":"d4"},{"col":5,"row":14.1875,"label":"2","kind":"d4"},
{"col":9,"row":14.1875,"label":"1","kind":"d0"},{"col":10,"row":14.1875,"label":"1","kind":"d0"},{"col":11,"row":14.1875,"label":"1","kind":"d0"},{"col":12,"row":14.1875,"label":"2","kind":"d0"},{"col":13,"row":14.1875,"label":"2","kind":"d0"},
{"col":17,"row":14.1875,"label":"1","kind":"d1"},{"col":18,"row":14.1875,"label":"1","kind":"d1"},{"col":19,"row":14.1875,"label":"1","kind":"d1"},{"col":20,"row":14.1875,"label":"2","kind":"d1"},{"col":21,"row":14.1875,"label":"2","kind":"d1"},
{"col":25,"row":14.1875,"label":"1","kind":"d2"},{"col":26,"row":14.1875,"label":"1","kind":"d2"},{"col":27,"row":14.1875,"label":"1","kind":"d2"},{"col":28,"row":14.1875,"label":"2","kind":"d2"},{"col":29,"row":14.1875,"label":"2","kind":"d2"},
{"col":33,"row":14.1875,"label":"1","kind":"d3"},{"col":34,"row":14.1875,"label":"1","kind":"d3"},{"col":35,"row":14.1875,"label":"1","kind":"d3"},{"col":36,"row":14.1875,"label":"2","kind":"d3"},{"col":37,"row":14.1875,"label":"2","kind":"d3"},
{"col":41,"row":14.1875,"label":"1","kind":"d4"},{"col":42,"row":14.1875,"label":"1","kind":"d4"},{"col":43,"row":14.1875,"label":"1","kind":"d4"},{"col":44,"row":14.1875,"label":"2","kind":"d4"},{"col":45,"row":14.1875,"label":"2","kind":"d4"},
{"col":0,"row":15.125,"label":"8","kind":"d4"},{"col":1,"row":15.125,"label":"1","kind":"d4"},{"col":2,"row":15.125,"label":"4","kind":"d4"},{"col":3,"row":15.125,"label":"7","kind":"d4"},{"col":4,"row":15.125,"label":"0","kind":"d4"},{"col":5,"row":15.125,"label":"3","kind":"d4"},
{"col":6,"row":15.125,"label":"2","kind":"d0"},{"col":7,"row":15.125,"label":"5","kind":"d0"},{"col":8,"row":15.125,"label":"8","kind":"d0"},{"col":9,"row":15.125,"label":"1","kind":"d0"},{"col":10,"row":15.125,"label":"4","kind":"d0"},{"col":11,"row":15.125,"label":"7","kind":"d0"},{"col":12,"row":15.125,"label":"0","kind":"d0"},{"col":13,"row":15.125,"label":"3","kind":"d0"},
{"col":14,"row":15.125,"label":"2","kind":"d1"},{"col":15,"row":15.125,"label":"5","kind":"d1"},{"col":16,"row":15.125,"label":"8","kind":"d1"},{"col":17,"row":15.125,"label":"1","kind":"d1"},{"col":18,"row":15.125,"label":"4","kind":"d1"},{"col":19,"row":15.125,"label":"7","kind":"d1"},{"col":20,"row":15.125,"label":"0","kind":"d1"},{"col":21,"row":15.125,"label":"3","kind":"d1"},
{"col":22,"row":15.125,"label":"2","kind":"d2"},{"col":23,"row":15.125,"label":"5","kind":"d2"},{"col":24,"row":15.125,"label":"8","kind":"d2"},{"col":25,"row":15.125,"label":"1","kind":"d2"},{"col":26,"row":15.125,"label":"4","kind":"d2"},{"col":27,"row":15.125,"label":"7","kind":"d2"},{"col":28,"row":15.125,"label":"0","kind":"d2"},{"col":29,"row":15.125,"label":"3","kind":"d2"},
{"col":30,"row":15.125,"label":"2","kind":"d3"},{"col":31,"row":15.125,"label":"5","kind":"d3"},{"col":32,"row":15.125,"label":"8","kind":"d3"},{"col":33,"row":15.125,"label":"1","kind":"d3"},{"col":34,"row":15.125,"label":"4","kind":"d3"},{"col":35,"row":15.125,"label":"7","kind":"d3"},{"col":36,"row":15.125,"label":"0","kind":"d3"},{"col":37,"row":15.125,"label":"3","kind":"d3"},
{"col":38,"row":15.125,"label":"2","kind":"d4"},{"col":39,"row":15.125,"label":"5","kind":"d4"},{"col":40,"row":15.125,"label":"8","kind":"d4"},{"col":41,"row":15.125,"label":"1","kind":"d4"},{"col":42,"row":15.125,"label":"4","kind":"d4"},{"col":43,"row":15.125,"label":"7","kind":"d4"},{"col":44,"row":15.125,"label":"0","kind":"d4"},{"col":45,"row":15.125,"label":"3","kind":"d4"},
{"col":46,"row":15.125,"label":"2","kind":"d0"},{"col":47,"row":15.125,"label":"5","kind":"d0"}],
"labels":[
{"col":-9.857,"row":-3,"label":"2026-08-15","kind":"d0"},{"col":-9.857,"row":-2.0625,"label":"Local Time","kind":"local"},
{"col":-0.357,"row":-3,"label":"Sat","kind":"d0"},{"col":13.57,"row":-3,"label":"Sunday, 16","kind":"d1"},{"col":37.57,"row":-3,"label":"Monday, 17","kind":"d2"},{"col":61.64,"row":-3,"label":"Tuesday, 18","kind":"d3"},{"col":75.57,"row":-3,"label":"Wed","kind":"d4"},
{"col":-9,"row":-0.125,"label":"Cloud Cover:","kind":"plain"},{"col":-9,"row":0.875,"label":"ECMWF Cloud:","kind":"plain"},{"col":-9,"row":1.875,"label":"Transparency:","kind":"plain"},{"col":-9,"row":2.875,"label":"Seeing:","kind":"plain"},{"col":-9,"row":3.875,"label":"Darkness:","kind":"dim"},
{"col":-9,"row":6.875,"label":"Smoke:","kind":"plain"},{"col":-9,"row":7.875,"label":"Wind:","kind":"plain"},{"col":-9,"row":8.875,"label":"Humidity:","kind":"plain"},{"col":-9,"row":9.875,"label":"Temperature:","kind":"plain"},
{"col":-10,"row":12.0625,"label":"EXTENDED Forecast. Each block is 3 hours. (A sponsored feature)","kind":"alert"},
{"col":-9.857,"row":13.25,"label":"2026-08-19","kind":"d4"},{"col":-9.857,"row":14.1875,"label":"Local Time","kind":"local"},
{"col":0.286,"row":13.25,"label":"Wed, 19","kind":"d4"},{"col":8.21,"row":13.25,"label":"Thu, 20","kind":"d0"},{"col":16.21,"row":13.25,"label":"Fri, 21","kind":"d1"},{"col":24.21,"row":13.25,"label":"Sat, 22","kind":"d2"},{"col":32.21,"row":13.25,"label":"Sun, 23","kind":"d3"},{"col":40.21,"row":13.25,"label":"Mon, 24","kind":"d4"},{"col":45.64,"row":13.25,"label":"T","kind":"d0"},
{"col":-9,"row":16.125,"label":"Cloud Cover:","kind":"plain"},{"col":-9,"row":17.125,"label":"ECMWF Cloud:","kind":"plain"},{"col":-9,"row":18.125,"label":"Darkness:","kind":"dim"},
{"col":13.43,"row":20.75,"label":"© 2026 Attilla Danko\u00a0\u00a0forecast: A.Rahill\u00a0\u00a0data:","kind":"plain"}],
"headline":[
{"col":20.43,"row":-4.44,"label":"Lockwood Observatory","kind":"brand"},{"col":38.43,"row":-4.44,"label":"Clear Sky Chart","kind":"accent"}],
"zones":[
{"col":-9.857,"row":-1.31,"label":"(GMT -7+0)"},{"col":-9.857,"row":14.94,"label":"(GMT -7+0)"}],
"side":[
{"col":-9.571,"row":2.03,"label":"--- Sky ---","kind":"sky"},{"col":-9.571,"row":8.53,"label":"- Ground -","kind":"ground"},{"col":-9.571,"row":17.28,"label":"- Sky -","kind":"sky"}],
"agency":[
{"col":49.2,"row":20.56,"label":"Environment"},{"col":49.2,"row":21.06,"label":"Canada"},{"col":53.85,"row":20.56,"label":"Environnement"},{"col":53.85,"row":21.06,"label":"Canada"}],
"leaf":[{"col":47.24,"row":20.875}]
},
"encoding":{
"x":{"field":"col","type":"quantitative","scale":{"domain":[-10,81.7142857],"nice":false,"zero":false},"axis":null},
"y":{"field":"row","type":"quantitative","scale":{"domain":[21.3125,-5.1875],"nice":false,"zero":false},"axis":null}
},
"layer":[
{"data":{"name":"panels"},"mark":{"type":"rect"},
"encoding":{"x":{"field":"from","type":"quantitative","axis":null},"x2":{"field":"to"},"y":{"field":"top","type":"quantitative","axis":null},"y2":{"field":"bottom"},
"color":{"field":"part","type":"nominal","legend":null,"scale":{"domain":["sky","ground","white","red"],"range":["#0a5ff0","#4f6b00","#ffffff","#ff0000"]}}}},
{"data":{"name":"cells"},"mark":{"type":"tick","orient":"vertical","thickness":12,"opacity":1},
"encoding":{"size":{"value":12},
"color":{"field":"v","type":"ordinal","legend":null,"scale":{"domain":[0,1,2,3,4,5,6,7,8,9,10,11,12,13,14,15,16,17,18,19,20,21,22],"range":["#003e7e","#0f4f92","#1b5b9c","#2c6cae","#4c8fd3","#5f9fe3","#78b4f5","#81bdbd","#94d3d3","#aeeeee","#c0c0c0","#e8e8e8","#ffffff","#0a0a60","#00ffe8","#55ffb0","#e8ff18","#e00000","#ff2000","#ff5c00","#ffa000","#9cdada","#000050"]}}}},
{"data":{"name":"bridges"},"mark":{"type":"tick","orient":"vertical","thickness":2,"opacity":1},
"encoding":{"size":{"value":8},
"color":{"field":"v","type":"ordinal","legend":null,"scale":{"domain":[0,1,3,4,5,6,8,10,12,21],"range":["#003e7e","#0f4f92","#2c6cae","#4c8fd3","#5f9fe3","#78b4f5","#94d3d3","#c0c0c0","#ffffff","#9cdada"]}}}},
{"data":{"name":"slices"},"mark":{"type":"tick","orient":"vertical","thickness":3,"opacity":1},
"encoding":{"size":{"value":12},
"color":{"field":"dark","type":"quantitative","legend":null,"scale":{"domain":[0,1,2,3,4,5,6,7],"range":["#ffffff","#fff0e0","#ffd8a0","#ffa040","#00ccff","#0080ff","#0000a0","#000050"],"interpolate":"rgb"}}}},
{"data":{"name":"midnights"},"mark":{"type":"rule","color":"#ff0000","strokeWidth":2},
"encoding":{"y":{"field":"top","type":"quantitative","axis":null},"y2":{"field":"bottom"}}},
{"data":{"name":"digits"},"mark":{"type":"text","font":"Liberation Mono","fontSize":15,"align":"center","baseline":"middle"},
"encoding":{"text":{"field":"label"},
"color":{"field":"kind","type":"nominal","legend":null,"scale":{"domain":["d0","d1","d2","d3","d4"],"range":["#70ff70","#ffff00","#ff7070","#ff00ff","#7070ff"]}}}},
{"data":{"name":"labels"},"mark":{"type":"text","font":"Liberation Mono","fontSize":15,"align":"left","baseline":"middle","dy":-1},
"encoding":{"text":{"field":"label"},
"color":{"field":"kind","type":"nominal","legend":null,"scale":{"domain":["d0","d1","d2","d3","d4","plain","dim","local","alert"],"range":["#70ff70","#ffff00","#ff7070","#ff00ff","#7070ff","#ffffff","#808030","#c8c800","#ff0000"]}}}},
{"data":{"name":"headline"},"mark":{"type":"text","font":"Liberation Mono","fontWeight":"bold","fontSize":20,"align":"left","baseline":"middle"},
"encoding":{"text":{"field":"label"},
"color":{"field":"kind","type":"nominal","legend":null,"scale":{"domain":["brand","accent"],"range":["#ffff00","#00c8c8"]}}}},
{"data":{"name":"zones"},"mark":{"type":"text","font":"Liberation Mono","fontWeight":"bold","fontSize":8,"align":"left","baseline":"middle","color":"#c8c800"},
"encoding":{"text":{"field":"label"}}},
{"data":{"name":"side"},"mark":{"type":"text","font":"Liberation Mono","fontSize":10,"align":"center","baseline":"middle","angle":270},
"encoding":{"text":{"field":"label"},
"color":{"field":"kind","type":"nominal","legend":null,"scale":{"domain":["sky","ground"],"range":["#ffff30","#e8e8e8"]}}}},
{"data":{"name":"agency"},"mark":{"type":"text","font":"Liberation Sans","fontSize":8,"align":"left","baseline":"middle","color":"#000000"},
"encoding":{"text":{"field":"label"}}},
{"data":{"name":"leaf"},"mark":{"type":"point","shape":"diamond","filled":true,"size":50,"color":"#ff0000","opacity":1}}
],
"resolve":{"scale":{"color":"independent"}}
}
